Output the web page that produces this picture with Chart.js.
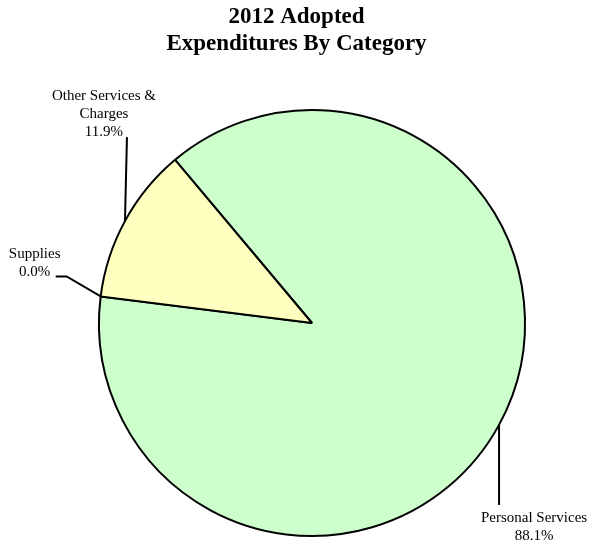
<!DOCTYPE html>
<html>
<head>
<meta charset="utf-8">
<script src="https://cdn.jsdelivr.net/npm/chart.js@4.4.1/dist/chart.umd.min.js"></script>
<style>
  html, body { margin: 0; padding: 0; background: #fff; }
  #wrap { width: 593px; height: 546px; position: relative; }
</style>
</head>
<body>
<div id="wrap"><canvas id="category-chart"></canvas></div>
<script>
const titleLines = ['2012 Adopted', 'Expenditures By Category'];
const categories = [['Personal Services'], ['Supplies'], ['Other Services &', 'Charges']];
const percents = [88.1, 0.0, 11.9];
const sliceColors = ['#ccffcc', '#ffffff', '#ffffc0'];

// leader line bends (offsets from the slice edge) and where the text sits
const leaders = [
  { path: [[0, 80]], textDx: 35, textDy: 13, dir: 1 },
  { path: [[-34, -20], [-45, -20]], textDx: -21, textDy: -4, dir: -1 },
  { path: [[2, -84]], textDx: -23, textDy: -5, dir: -1 }
];

const serif = '"Liberation Serif", "Times New Roman", serif';

const titleAndLabels = {
  id: 'titleAndLabels',
  afterDatasetsDraw(chart) {
    const ctx = chart.ctx;
    ctx.save();
    ctx.fillStyle = '#000';
    ctx.textAlign = 'center';
    ctx.textBaseline = 'middle';
    ctx.font = 'bold 23px ' + serif;
    titleLines.forEach((t, i) => ctx.fillText(t, chart.width / 2, 17 + i * 27));

    const arcs = chart.getDatasetMeta(0).data;
    ctx.font = '15px ' + serif;
    ctx.strokeStyle = '#000';
    ctx.lineWidth = 2;
    arcs.forEach((arc, i) => {
      const p = arc.getProps(['x', 'y', 'startAngle', 'endAngle', 'outerRadius'], true);
      const mid = (p.startAngle + p.endAngle) / 2;
      const ex = p.x + Math.cos(mid) * p.outerRadius;
      const ey = p.y + Math.sin(mid) * p.outerRadius;
      const lead = leaders[i];
      ctx.beginPath();
      ctx.moveTo(ex, ey);
      let lx = ex, ly = ey;
      lead.path.forEach(([dx, dy]) => {
        lx = ex + dx; ly = ey + dy;
        ctx.lineTo(lx, ly);
      });
      ctx.stroke();

      const lines = categories[i].concat(percents[i].toFixed(1) + '%');
      const step = 18;
      const tx = lx + lead.textDx;
      lines.forEach((t, j) => {
        const ty = lead.dir > 0
          ? ly + lead.textDy + j * step
          : ly + lead.textDy - (lines.length - 1 - j) * step;
        ctx.fillText(t, tx, ty);
      });
    });
    ctx.restore();
  }
};

new Chart(document.getElementById('category-chart'), {
  type: 'pie',
  data: {
    labels: categories.map(c => c.join(' ')),
    datasets: [{
      data: percents,
      backgroundColor: sliceColors,
      borderColor: '#000',
      borderWidth: 2,
      borderAlign: 'center'
    }]
  },
  options: {
    responsive: true,
    maintainAspectRatio: false,
    animation: false,
    rotation: -40,
    layout: { padding: { left: 98, right: 67, top: 109, bottom: 9 } },
    plugins: {
      legend: { display: false },
      tooltip: { enabled: false }
    }
  },
  plugins: [titleAndLabels]
});
</script>
</body>
</html>
